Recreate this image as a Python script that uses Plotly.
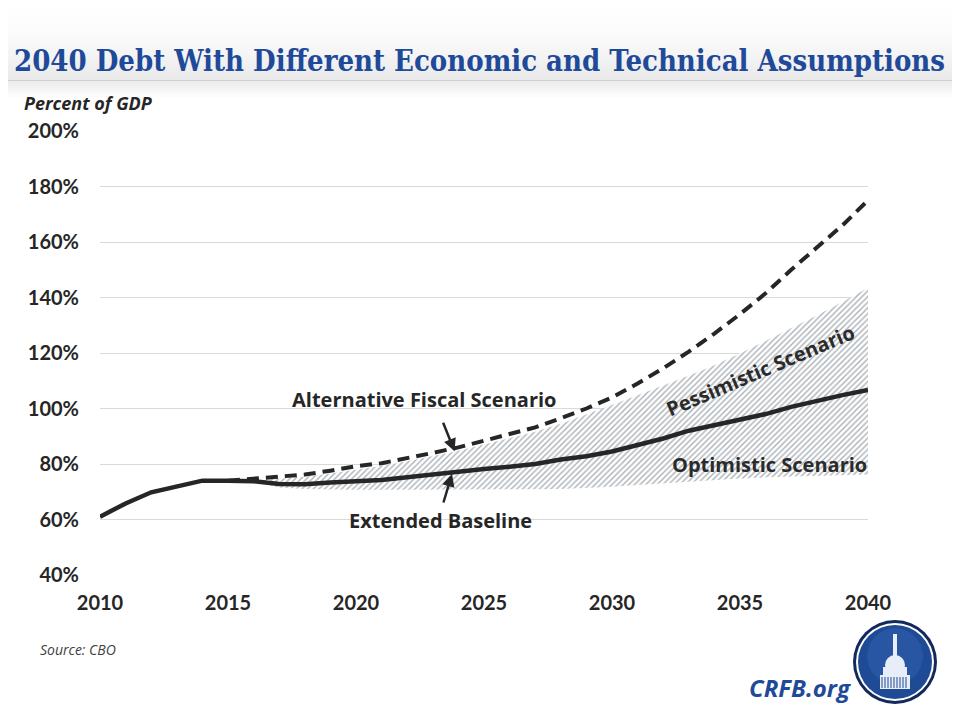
import plotly.graph_objects as go

# ---------------- data ----------------
years = list(range(2010, 2041))
extended_baseline = [61, 65.8, 69.8, 72, 74, 74, 73.8, 72.8, 72.7, 73.3, 73.6, 74.2, 75.2, 76.3,
                     77.4, 78.2, 79, 80, 81.6, 82.8, 84.5, 86.8, 89.2, 92, 94, 96, 98, 100.6,
                     102.8, 104.8, 106.7]
afs_years = list(range(2015, 2041))
alternative_fiscal = [74, 74.8, 75.3, 76.2, 77.6, 79.2, 80.3, 82, 84, 86, 88.3, 90.6, 93.2, 96.5,
                      100, 104, 109, 114.5, 120.5, 127, 134, 141.5, 150, 158, 166, 175]
band_years = list(range(2016, 2041))
optimistic = [73.5, 71.5, 71, 70.8, 70.7, 70.7, 70.7, 70.7, 70.7, 70.8, 70.8, 70.9, 71, 71.3,
              71.8, 72.4, 73, 73.7, 74.3, 74.8, 75.2, 75.5, 75.8, 76, 76.2]
pessimistic = [74, 74.6, 75.4, 76.6, 78, 79.3, 81, 82.8, 84.8, 87, 89.2, 91.6, 94.5, 97.8,
               101.3, 104.8, 108.3, 111.8, 115.6, 119.8, 124.3, 128.8, 133.5, 138.4, 143.5]
y_ticks = [40, 60, 80, 100, 120, 140, 160, 180, 200]
y_tick_labels = [f"{v}%" for v in y_ticks]
x_ticks = [2010, 2015, 2020, 2025, 2030, 2035, 2040]

# ---------------- layout helpers (page pixel -> paper) ----------------
W, H = 960, 720
OFF = 8                      # page body margin
X0, X1, Y0, Y1 = 100, 868, 131, 575   # plot area in page pixels
PW, PH = X1 - X0, Y1 - Y0


def px(x):
    return (x - X0) / PW


def py(y):
    return (Y1 - y) / PH


DARK = "#262626"
BLUE = "#1F4A9A"
TICKFONT = dict(family="Lato", size=20, color=DARK, weight="bold")

fig = go.Figure()

# hatched band (optimistic -> pessimistic)
fig.add_trace(go.Scatter(x=band_years, y=optimistic, mode="lines",
                         line=dict(width=0, color="rgba(0,0,0,0)"), showlegend=False,
                         hoverinfo="skip"))
fig.add_trace(go.Scatter(x=band_years, y=pessimistic, mode="lines",
                         line=dict(width=0, color="rgba(0,0,0,0)"), fill="tonexty",
                         fillcolor="rgba(0,0,0,0)",
                         fillpattern=dict(shape="/", fgcolor="#56636F", bgcolor="#FFFFFF",
                                          size=4, solidity=0.35),
                         showlegend=False, hoverinfo="skip"))

# alternative fiscal scenario (dashed)
fig.add_trace(go.Scatter(x=afs_years, y=alternative_fiscal, mode="lines",
                         line=dict(color=DARK, width=4, dash="12px,7px"),
                         showlegend=False))
# extended baseline (solid)
fig.add_trace(go.Scatter(x=years, y=extended_baseline, mode="lines",
                         line=dict(color=DARK, width=4.5), showlegend=False))

# ---------------- header shapes ----------------
shapes = []
n = 40
for i in range(n):
    ya = i * 80 / n
    yb = ya + 80 / n + 0.5
    g = int(255 - (i / (n - 1)) ** 2 * 22)
    shapes.append(dict(type="rect", xref="paper", yref="paper",
                       x0=px(-10), x1=px(W + 10), y0=py(yb), y1=py(ya),
                       fillcolor=f"rgb({g},{g},{g})", line=dict(width=0), layer="below"))
shapes.append(dict(type="line", xref="paper", yref="paper", x0=px(-10), x1=px(W + 10),
                   y0=py(80.5), y1=py(80.5), line=dict(color="#D0D0D0", width=1.2)))
for i in range(8):
    ya = 81 + i * 2
    g = int(236 + i * 2.4)
    shapes.append(dict(type="rect", xref="paper", yref="paper",
                       x0=px(-10), x1=px(W + 10), y0=py(ya + 2), y1=py(ya),
                       fillcolor=f"rgb({g},{g},{g})", line=dict(width=0), layer="below"))

# ---------------- logo ----------------
cx, cy, r = 895, 662, 42


def circ(rad, color, dy=0):
    return dict(type="circle", xref="paper", yref="paper",
                x0=px(cx - rad), x1=px(cx + rad), y0=py(cy + dy + rad), y1=py(cy + dy - rad),
                fillcolor=color, line=dict(width=0))


shapes.append(circ(r, "#13295C"))
shapes.append(circ(r - 3, "#FFFFFF"))
shapes.append(circ(r - 5, "#1E4A96"))
shapes.append(circ(r - 14, "rgba(60,110,190,0.35)", dy=-6))


def rect(xa, xb, ya, yb, color):
    return dict(type="rect", xref="paper", yref="paper", x0=px(xa), x1=px(xb),
                y0=py(yb), y1=py(ya), fillcolor=color, line=dict(width=0))


shapes.append(rect(cx - 15, cx + 15, cy + 13, cy + 27, "#E8EEF8"))
shapes.append(rect(cx - 12, cx + 12, cy + 5, cy + 13, "#E8EEF8"))
shapes.append(dict(type="circle", xref="paper", yref="paper",
                   x0=px(cx - 10), x1=px(cx + 10), y0=py(cy + 13), y1=py(cy - 7),
                   fillcolor="#E8EEF8", line=dict(width=0)))
shapes.append(rect(cx - 2, cx + 2, cy - 28, cy - 6, "#E8EEF8"))
for k in range(-13, 14, 3):
    shapes.append(dict(type="line", xref="paper", yref="paper",
                       x0=px(cx + k), x1=px(cx + k), y0=py(cy + 26), y1=py(cy + 15),
                       line=dict(color="#1E4A96", width=1)))

# ---------------- annotations ----------------
ann = []
ann.append(dict(text="2040 Debt With Different Economic and Technical Assumptions",
                xref="paper", yref="paper", x=px(479), y=py(61), showarrow=False,
                xanchor="center", yanchor="middle",
                font=dict(family="DejaVu Serif Condensed", size=29, color=BLUE, weight="bold")))
ann.append(dict(text="Percent of GDP", xref="paper", yref="paper", x=px(22), y=py(103),
                showarrow=False, xanchor="left", yanchor="middle",
                font=dict(family="Open Sans", size=18, color=DARK, weight="bold", style="italic")))
ann.append(dict(text="Source: CBO", xref="paper", yref="paper", x=px(38), y=py(649),
                showarrow=False, xanchor="left", yanchor="middle",
                font=dict(family="Open Sans", size=14, color="#404040", style="italic")))
ann.append(dict(text="CRFB.org", xref="paper", yref="paper", x=px(853), y=py(687),
                showarrow=False, xanchor="right", yanchor="middle",
                font=dict(family="Open Sans", size=24, color=BLUE, weight="bold", style="italic")))

LABELFONT = dict(family="Open Sans", size=20, color=DARK, weight="bold")
ann.append(dict(text="Alternative Fiscal Scenario", xref="paper", yref="paper",
                x=px(424), y=py(400), showarrow=False, xanchor="center", yanchor="middle",
                font=LABELFONT))
ann.append(dict(text="", x=2023.85, y=84.6, xref="x", yref="y", showarrow=True,
                ax=-12, ay=-30, arrowhead=2, arrowsize=1, arrowwidth=2.5, arrowcolor=DARK))
ann.append(dict(text="Extended Baseline", xref="paper", yref="paper",
                x=px(440), y=py(520), showarrow=False, xanchor="center", yanchor="middle",
                font=LABELFONT))
ann.append(dict(text="", x=2023.75, y=76.4, xref="x", yref="y", showarrow=True,
                ax=-9, ay=30, arrowhead=2, arrowsize=1, arrowwidth=2.5, arrowcolor=DARK))
ann.append(dict(text="Pessimistic Scenario", xref="paper", yref="paper",
                x=px(760), y=py(370), showarrow=False, xanchor="center", yanchor="middle",
                textangle=-23, font=dict(family="Open Sans", size=20, color="#2B2B2B", weight="bold")))
ann.append(dict(text="Optimistic Scenario", xref="paper", yref="paper",
                x=px(769), y=py(464), showarrow=False, xanchor="center", yanchor="middle",
                font=dict(family="Open Sans", size=20, color="#2B2B2B", weight="bold")))

fig.update_layout(
    width=W, height=H,
    margin=dict(l=X0 - OFF, r=W - (X1 - OFF), t=Y0 - OFF, b=H - (Y1 - OFF), autoexpand=False),
    paper_bgcolor="white", plot_bgcolor="rgba(0,0,0,0)",
    shapes=shapes, annotations=ann, showlegend=False,
)
fig.update_xaxes(range=[2010, 2040], tickvals=x_ticks, ticktext=[str(v) for v in x_ticks],
                 showgrid=False, zeroline=False, showline=False, ticks="",
                 tickfont=TICKFONT, ticklabelstandoff=14, fixedrange=True)
fig.update_yaxes(range=[40, 200], tickvals=y_ticks, ticktext=y_tick_labels,
                 showgrid=True, gridcolor="#D9D9D9", gridwidth=1, zeroline=False,
                 showline=False, ticks="", tickfont=TICKFONT, ticklabelstandoff=20,
                 fixedrange=True)

fig.write_html("out.html")
